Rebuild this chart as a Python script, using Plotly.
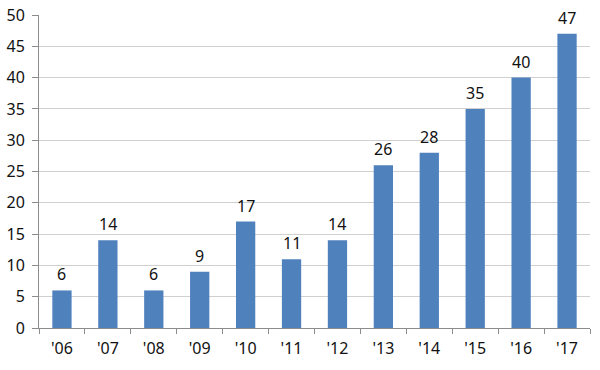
import plotly.graph_objects as go

years = ["'06", "'07", "'08", "'09", "'10", "'11", "'12", "'13", "'14", "'15", "'16", "'17"]
values = [6, 14, 6, 9, 17, 11, 14, 26, 28, 35, 40, 47]
y_ticks = [0, 5, 10, 15, 20, 25, 30, 35, 40, 45, 50]

fig = go.Figure()
fig.add_trace(go.Bar(
    x=years, y=values,
    marker=dict(color="#4F81BD", line=dict(width=0)),
    cliponaxis=False,
))
for yr, v in zip(years, values):
    fig.add_annotation(
        x=yr, y=v, text=str(v), showarrow=False,
        yanchor="bottom", yshift=3,
        font=dict(size=16, color="#111111", family="Noto Sans"),
    )
fig.update_layout(
    width=600, height=370,
    margin=dict(l=39, r=10, t=15, b=42, autoexpand=False),
    plot_bgcolor="white", paper_bgcolor="white",
    bargap=0.58,
    showlegend=False,
    font=dict(family="Noto Sans", size=16, color="#111111"),
)
fig.update_yaxes(
    range=[0, 50], tickvals=y_ticks,
    showgrid=True, gridcolor="#D0D0D0", gridwidth=1,
    showline=True, linecolor="#8C8C8C", linewidth=1,
    ticks="outside", ticklen=6, tickcolor="#8C8C8C",
    ticklabelstandoff=4,
    tickfont=dict(size=16), zeroline=False, automargin=False,
)
fig.update_xaxes(
    showline=True, linecolor="#8C8C8C", linewidth=1,
    ticks="outside", ticklen=5, tickcolor="#8C8C8C",
    tickson="boundaries", automargin=False,
    ticklabelstandoff=6,
    tickfont=dict(size=16),
)
fig.write_html(
    "out.html",
    config={"displayModeBar": False},
    post_script="document.body.style.margin='0';document.body.style.padding='0';",
)
